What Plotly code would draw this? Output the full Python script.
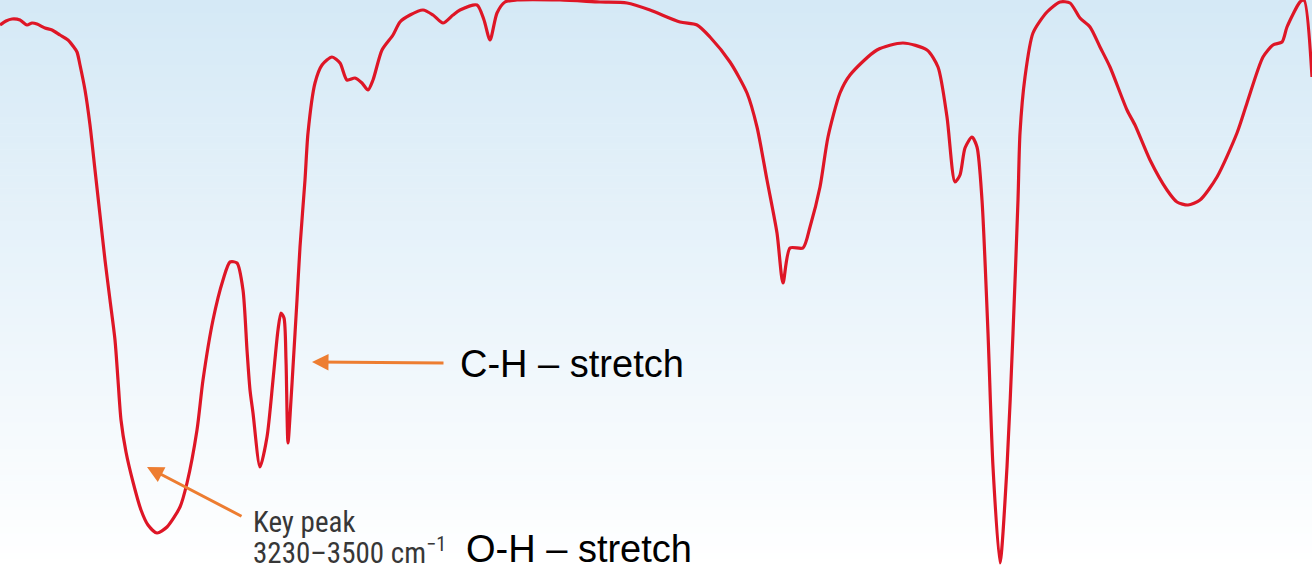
import plotly.graph_objects as go

# Spectrum trace (x position, depth from top; axis reversed)
x_pos = [0, 6, 12, 20, 27, 32, 37, 45, 52, 60, 68, 73, 77, 80, 85, 90, 95, 100, 105, 110,
         115, 118, 121, 126, 133, 141, 148, 157, 167, 180, 187, 197, 203, 213, 223, 230, 237,
         243, 247, 250, 253, 260, 267, 273, 278, 281, 284, 286, 288, 291, 293, 297, 300,
         305, 308, 315, 322, 332, 340, 347, 355, 362, 368, 373, 382, 393, 400, 410, 423,
         433, 443, 453, 460, 477, 484, 490, 497, 505, 517, 560, 600, 627, 650, 680, 697,
         710, 730, 747, 757, 767, 777, 783, 790, 803, 810, 820, 828, 840, 850, 877, 903,
         927, 938, 947, 955, 960, 965, 972, 977, 982, 988, 993, 1000, 1007, 1013, 1018,
         1020, 1025, 1033, 1047, 1060, 1070, 1080, 1090, 1100, 1110, 1127, 1135, 1150,
         1167, 1177, 1188, 1200, 1217, 1237, 1247, 1263, 1273, 1282, 1287, 1300, 1304, 1312]
depth = [25, 21, 19, 20, 25, 23, 24, 28, 30, 35, 40, 46, 52, 65, 90, 125, 170, 215, 260, 300,
         340, 380, 420, 452, 482, 510, 525, 533, 527, 507, 483, 430, 380, 320, 280, 262, 263,
         290, 350, 390, 413, 467, 437, 380, 330, 313, 318, 360, 443, 400, 367, 300, 247,
         180, 133, 83, 65, 57, 63, 80, 78, 83, 90, 80, 50, 35, 22, 15, 10,
         15, 23, 15, 10, 5, 20, 40, 13, 2, 0, 0, 2, 3, 10, 22, 25,
         37, 62, 93, 127, 180, 233, 283, 248, 248, 227, 187, 137, 93, 75, 50, 43,
         50, 67, 117, 182, 175, 148, 137, 147, 200, 333, 467, 563, 467, 333, 200,
         133, 77, 33, 12, 2, 3, 18, 27, 47, 67, 110, 125, 160,
         190, 202, 205, 200, 177, 133, 103, 57, 45, 42, 27, 2, 0, 77]

ch_label = "C-H – stretch"
oh_label = "O-H – stretch"
key_label = "Key peak"
range_label = "3230–3500 cm<sup>−1</sup>"

fig = go.Figure()

fig.add_trace(go.Scatter(
    x=x_pos, y=depth, mode="lines",
    line=dict(color="rgb(222,22,38)", width=3.2, shape="spline", smoothing=0.7),
    hoverinfo="skip", showlegend=False,
))

# gradient background
shapes = []
n = 90
top = (213, 233, 246)
bot = (255, 255, 255)
for i in range(n):
    f = i / (n - 1)
    f2 = min(1.0, f * 1.03)
    c = tuple(round(top[k] + (bot[k] - top[k]) * f2) for k in range(3))
    shapes.append(dict(type="rect", xref="paper", yref="paper",
                       x0=0, x1=1, y0=1 - (i + 1) / n, y1=1 - i / n + 0.001,
                       fillcolor=f"rgb{c}", line=dict(width=0), layer="below"))

orange = "rgb(237,125,49)"
narrow = "Liberation Sans Narrow, Roboto Condensed, Roboto, Liberation Sans"
annotations = [
    dict(x=312, y=362, ax=445, ay=363, xref="x", yref="y", axref="x", ayref="y",
         text="", showarrow=True, arrowhead=2, arrowsize=1.1, arrowwidth=3, arrowcolor=orange),
    dict(x=147, y=467, ax=243, ay=517, xref="x", yref="y", axref="x", ayref="y",
         text="", showarrow=True, arrowhead=2, arrowsize=1.1, arrowwidth=3, arrowcolor=orange),
    dict(x=458, y=364, xref="x", yref="y", text=ch_label, showarrow=False,
         xanchor="left", yanchor="middle",
         font=dict(family="Liberation Sans, Arial", size=38, color="black")),
    dict(x=464, y=549, xref="x", yref="y", text=oh_label, showarrow=False,
         xanchor="left", yanchor="middle",
         font=dict(family="Liberation Sans, Arial", size=38, color="black")),
    dict(x=251, y=522, xref="x", yref="y", text=key_label, showarrow=False,
         xanchor="left", yanchor="middle",
         font=dict(family=narrow, size=29, color="rgb(55,55,55)")),
    dict(x=251, y=551, xref="x", yref="y", text=range_label, showarrow=False,
         xanchor="left", yanchor="middle",
         font=dict(family=narrow, size=29, color="rgb(55,55,55)")),
]

fig.update_layout(
    width=1312, height=586,
    margin=dict(l=0, r=0, t=0, b=0),
    paper_bgcolor="white", plot_bgcolor="rgba(0,0,0,0)",
    xaxis=dict(range=[0, 1312], visible=False, fixedrange=True),
    yaxis=dict(range=[586, 0], visible=False, fixedrange=True),
    shapes=shapes, annotations=annotations,
)

fig.write_html(
    "out.html",
    config={"displayModeBar": False, "staticPlot": True},
    post_script="document.body.style.margin='0';document.body.style.overflow='hidden';",
)
